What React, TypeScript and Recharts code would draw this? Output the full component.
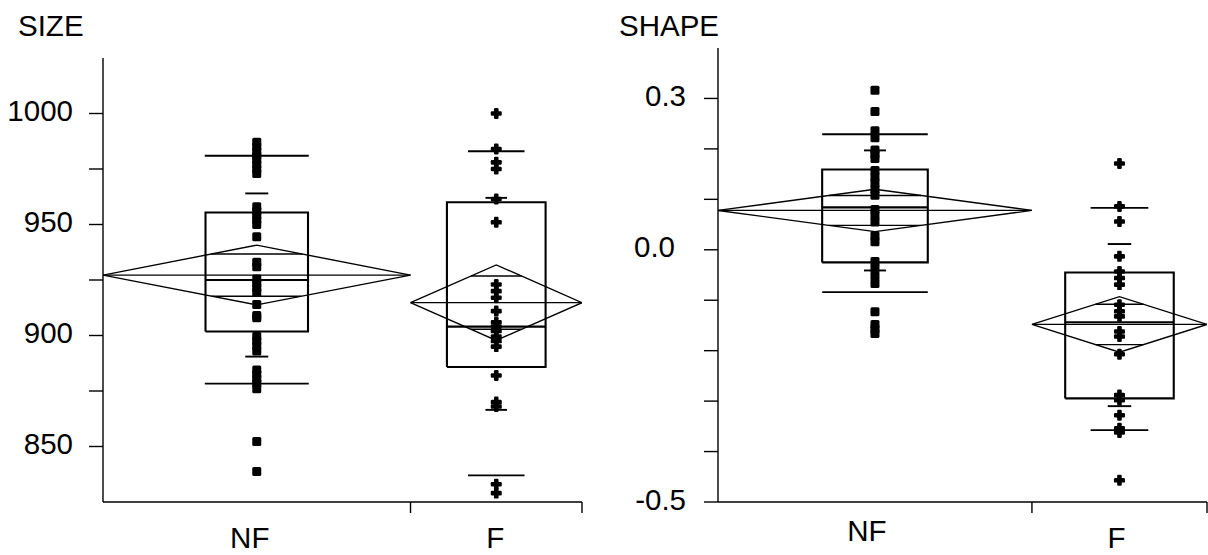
import React from 'react';
import { ComposedChart, XAxis, YAxis, Line, Scatter } from 'recharts';

// ---------- shared categories ----------
const GROUPS = ['NF', 'F'];
// relative width of each group slot along the x axis (JMP scales slot width by n)
const GROUP_SHARE = [0.642, 0.358];

// ---------- SIZE ----------
const sizeTicks = [850, 875, 900, 925, 950, 975, 1000];
const sizeTickLabels = ['850', '', '900', '', '950', '', '1000'];
const sizeNF = [
  987, 985, 983, 981, 979, 977, 975, 973, 958, 956, 954, 952, 950, 944.5, 933, 931,
  925.5, 923.5, 921.5, 919.5, 914, 909, 908, 899.5, 897.5, 895.5, 893, 884.5, 882.5,
  880.5, 878.5, 876, 852.3, 838.7,
];
const sizeF = [
  1000, 984, 978, 975, 961.5, 951, 923, 920, 917, 911, 906, 904, 902, 899.5, 897.5, 895,
  882, 870, 868, 833, 829,
];
const sizeMean = [927.2, 914.8];
const sizeCiHi = [940.7, 931.8];
const sizeCiLo = [913.8, 897.8];
const sizeOverlapHi = [936.7, 926.8];
const sizeOverlapLo = [917.7, 902.8];
const sizeMedian = [925, 904];
const sizeQ75 = [955.4, 960];
const sizeQ25 = [901.8, 885.8];
const sizeQ90 = [981, 983];
const sizeQ10 = [878.3, 837];
const sizeMarkHi = [964, 962];
const sizeMarkLo = [890.5, 866.5];

// ---------- SHAPE ----------
const shapeTicks = [-0.5, -0.4, -0.3, -0.2, -0.1, 0, 0.1, 0.2, 0.3];
const shapeTickLabels = ['-0.5', '', '', '', '', '0.0', '', '', '0.3'];
const shapeNF = [
  0.316, 0.274, 0.236, 0.222, 0.198, 0.19, 0.181, 0.157, 0.145, 0.133, 0.12, 0.108, 0.08,
  0.068, 0.055, 0.028, 0.016, -0.023, -0.037, -0.052, -0.067, -0.123, -0.148, -0.157, -0.166,
];
const shapeF = [
  0.171, 0.086, 0.056, -0.013, -0.043, -0.056, -0.069, -0.109, -0.122, -0.132, -0.162,
  -0.172, -0.207, -0.288, -0.298, -0.328, -0.354, -0.362, -0.457,
];
const shapeMean = [0.078, -0.148];
const shapeCiHi = [0.12, -0.093];
const shapeCiLo = [0.036, -0.203];
const shapeOverlapHi = [0.1077, -0.108];
const shapeOverlapLo = [0.0483, -0.188];
const shapeMedian = [0.084, -0.1436];
const shapeQ75 = [0.159, -0.045];
const shapeQ25 = [-0.025, -0.2946];
const shapeQ90 = [0.229, 0.083];
const shapeQ10 = [-0.084, -0.3575];
const shapeMarkHi = [0.197, 0.0114];
const shapeMarkLo = [-0.041, -0.31];

const FONT = "'Liberation Sans', Arial, Helvetica, sans-serif";
const FONT_SIZE = 29.5;

type Stats = {
  mean: number[]; ciHi: number[]; ciLo: number[]; ovHi: number[]; ovLo: number[];
  median: number[]; q75: number[]; q25: number[]; q90: number[]; q10: number[];
  markHi: number[]; markLo: number[];
};

type Layout = {
  left: number; width: number; yAxisWidth: number; marginRight: number; top: number;
  xAxisHeight: number; domain: [number, number];
  boxHalf: number[]; qHalf: number[]; markHalf: number[];
  labelDx: number[]; labelDy: number[]; tickGap: Record<string, number>;
};

const HEIGHT = 555;

const Square = (p: any) => (
  <rect x={p.cx - 4.5} y={p.cy - 4.5} width={9} height={9} rx={1.5} fill="#000" />
);
const Plus = (p: any) => (
  <g fill="#000">
    <rect x={p.cx - 5.5} y={p.cy - 2.3} width={11} height={4.6} rx={1.2} />
    <rect x={p.cx - 2.3} y={p.cy - 5.5} width={4.6} height={11} rx={1.2} />
  </g>
);

function seg(key: string, pts: { x: number; y: number }[], w: number) {
  return (
    <Line
      key={key}
      data={pts}
      dataKey="y"
      type="linear"
      stroke="#000"
      strokeWidth={w}
      dot={false}
      activeDot={false}
      isAnimationActive={false}
      legendType="none"
    />
  );
}

function Panel({
  values, stats, ticks, tickLabels, lay,
}: {
  values: number[][]; stats: Stats; ticks: number[]; tickLabels: string[]; lay: Layout;
}) {
  const bounds = [0];
  GROUP_SHARE.forEach((s, i) => bounds.push(bounds[i] + s));
  const centers = GROUPS.map((_, i) => (bounds[i] + bounds[i + 1]) / 2);
  const xTicks: number[] = [];
  GROUPS.forEach((_, i) => { xTicks.push(centers[i]); xTicks.push(bounds[i + 1]); });

  const els: React.ReactNode[] = [];
  GROUPS.forEach((g, i) => {
    const b0 = bounds[i];
    const b1 = bounds[i + 1];
    const c = centers[i];
    const m = stats.mean[i];
    const hi = stats.ciHi[i];
    const lo = stats.ciLo[i];
    // means diamond
    els.push(seg(`dia${g}`, [
      { x: b0, y: m }, { x: c, y: hi }, { x: b1, y: m }, { x: c, y: lo }, { x: b0, y: m },
    ], 1.4));
    els.push(seg(`mean${g}`, [{ x: b0, y: m }, { x: b1, y: m }], 1.3));
    // overlap marks: chords of the diamond
    const half = c - b0;
    const hwHi = (1 - (stats.ovHi[i] - m) / (hi - m)) * half;
    const hwLo = (1 - (m - stats.ovLo[i]) / (m - lo)) * half;
    els.push(seg(`ovh${g}`, [{ x: c - hwHi, y: stats.ovHi[i] }, { x: c + hwHi, y: stats.ovHi[i] }], 1.4));
    els.push(seg(`ovl${g}`, [{ x: c - hwLo, y: stats.ovLo[i] }, { x: c + hwLo, y: stats.ovLo[i] }], 1.4));
    // box
    const bh = lay.boxHalf[i];
    els.push(seg(`box${g}`, [
      { x: c - bh, y: stats.q25[i] }, { x: c - bh, y: stats.q75[i] }, { x: c + bh, y: stats.q75[i] },
      { x: c + bh, y: stats.q25[i] }, { x: c - bh, y: stats.q25[i] },
    ], 2.1));
    els.push(seg(`med${g}`, [{ x: c - bh, y: stats.median[i] }, { x: c + bh, y: stats.median[i] }], 2.1));
    // quantile lines
    const qh = lay.qHalf[i];
    els.push(seg(`q90${g}`, [{ x: c - qh, y: stats.q90[i] }, { x: c + qh, y: stats.q90[i] }], 1.9));
    els.push(seg(`q10${g}`, [{ x: c - qh, y: stats.q10[i] }, { x: c + qh, y: stats.q10[i] }], 1.9));
    const mh = lay.markHalf[i];
    els.push(seg(`mkh${g}`, [{ x: c - mh, y: stats.markHi[i] }, { x: c + mh, y: stats.markHi[i] }], 1.9));
    els.push(seg(`mkl${g}`, [{ x: c - mh, y: stats.markLo[i] }, { x: c + mh, y: stats.markLo[i] }], 1.9));
  });

  const pointSets = GROUPS.map((_, i) => values[i].map((v) => ({ x: centers[i], y: v })));

  const yTick = (p: any) => {
    const idx = ticks.indexOf(p.payload.value);
    const lab = idx >= 0 ? tickLabels[idx] : '';
    if (!lab) return <g />;
    const gap = lay.tickGap[lab] ?? 16;
    return (
      <text x={p.x - gap} y={p.y + 7.5} textAnchor="end" fontSize={FONT_SIZE} fontFamily={FONT} fill="#000">
        {lab}
      </text>
    );
  };

  const xTick = (p: any) => {
    const idx = p.index as number;
    if (idx % 2 === 1) {
      return <line x1={p.x} x2={p.x} y1={p.y} y2={p.y + 11} stroke="#000" strokeWidth={1.4} />;
    }
    const g = idx / 2;
    return (
      <text
        x={p.x + lay.labelDx[g]}
        y={p.y + lay.labelDy[g]}
        textAnchor="middle"
        fontSize={FONT_SIZE}
        fontFamily={FONT}
        fill="#000"
      >
        {GROUPS[g]}
      </text>
    );
  };

  return (
    <div style={{ position: 'absolute', left: lay.left, top: 0 }}>
      <ComposedChart
        width={lay.width}
        height={HEIGHT}
        margin={{ top: lay.top, right: lay.marginRight, bottom: 0, left: 0 }}
      >
        <XAxis
          type="number"
          dataKey="x"
          domain={[0, 1]}
          allowDataOverflow
          ticks={xTicks}
          interval={0}
          tickSize={0}
          tickMargin={0}
          tickLine={false}
          height={lay.xAxisHeight}
          axisLine={{ stroke: '#000', strokeWidth: 1.4 }}
          tick={xTick}
        />
        <YAxis
          type="number"
          dataKey="y"
          domain={lay.domain}
          allowDataOverflow
          ticks={ticks}
          interval={0}
          width={lay.yAxisWidth}
          tickSize={14}
          tickMargin={0}
          axisLine={{ stroke: '#000', strokeWidth: 1.4 }}
          tickLine={{ stroke: '#000', strokeWidth: 1.4 }}
          tick={yTick}
        />
        {els}
        <Scatter data={pointSets[0]} dataKey="y" shape={Square} isAnimationActive={false} legendType="none" />
        <Scatter data={pointSets[1]} dataKey="y" shape={Plus} isAnimationActive={false} legendType="none" />
      </ComposedChart>
    </div>
  );
}

const sizeStats: Stats = {
  mean: sizeMean, ciHi: sizeCiHi, ciLo: sizeCiLo, ovHi: sizeOverlapHi, ovLo: sizeOverlapLo,
  median: sizeMedian, q75: sizeQ75, q25: sizeQ25, q90: sizeQ90, q10: sizeQ10,
  markHi: sizeMarkHi, markLo: sizeMarkLo,
};
const shapeStats: Stats = {
  mean: shapeMean, ciHi: shapeCiHi, ciLo: shapeCiLo, ovHi: shapeOverlapHi, ovLo: shapeOverlapLo,
  median: shapeMedian, q75: shapeQ75, q25: shapeQ25, q90: shapeQ90, q10: shapeQ10,
  markHi: shapeMarkHi, markLo: shapeMarkLo,
};

const sizeLayout: Layout = {
  left: 0, width: 600, yAxisWidth: 103, marginRight: 18, top: 58, xAxisHeight: 53,
  domain: [825, 1025],
  boxHalf: [0.107, 0.103], qHalf: [0.1085, 0.059], markHalf: [0.024, 0.0225],
  labelDx: [-7, -1], labelDy: [46, 46], tickGap: { '850': 16, '900': 16, '950': 16, '1000': 16 },
};
const shapeLayout: Layout = {
  left: 600, width: 608, yAxisWidth: 118, marginRight: 1, top: 48, xAxisHeight: 53,
  domain: [-0.5, 0.4],
  boxHalf: [0.108, 0.111], qHalf: [0.108, 0.059], markHalf: [0.0225, 0.024],
  labelDx: [-8, -3], labelDy: [39, 46], tickGap: { '-0.5': 18, '0.0': 29, '0.3': 18 },
};

export default function App() {
  return (
    <div
      style={{
        position: 'absolute', left: 0, top: 0, width: 1208, height: HEIGHT,
        background: '#fff', overflow: 'hidden',
      }}
    >
      <Panel values={[sizeNF, sizeF]} stats={sizeStats} ticks={sizeTicks} tickLabels={sizeTickLabels} lay={sizeLayout} />
      <Panel values={[shapeNF, shapeF]} stats={shapeStats} ticks={shapeTicks} tickLabels={shapeTickLabels} lay={shapeLayout} />
      <svg
        width={1208}
        height={HEIGHT}
        style={{ position: 'absolute', left: 0, top: 0, pointerEvents: 'none' }}
      >
        <text x={18} y={35.5} fontSize={FONT_SIZE} fontFamily={FONT} fill="#000">SIZE</text>
        <text x={619} y={36} fontSize={FONT_SIZE} fontFamily={FONT} fill="#000">SHAPE</text>
      </svg>
    </div>
  );
}
